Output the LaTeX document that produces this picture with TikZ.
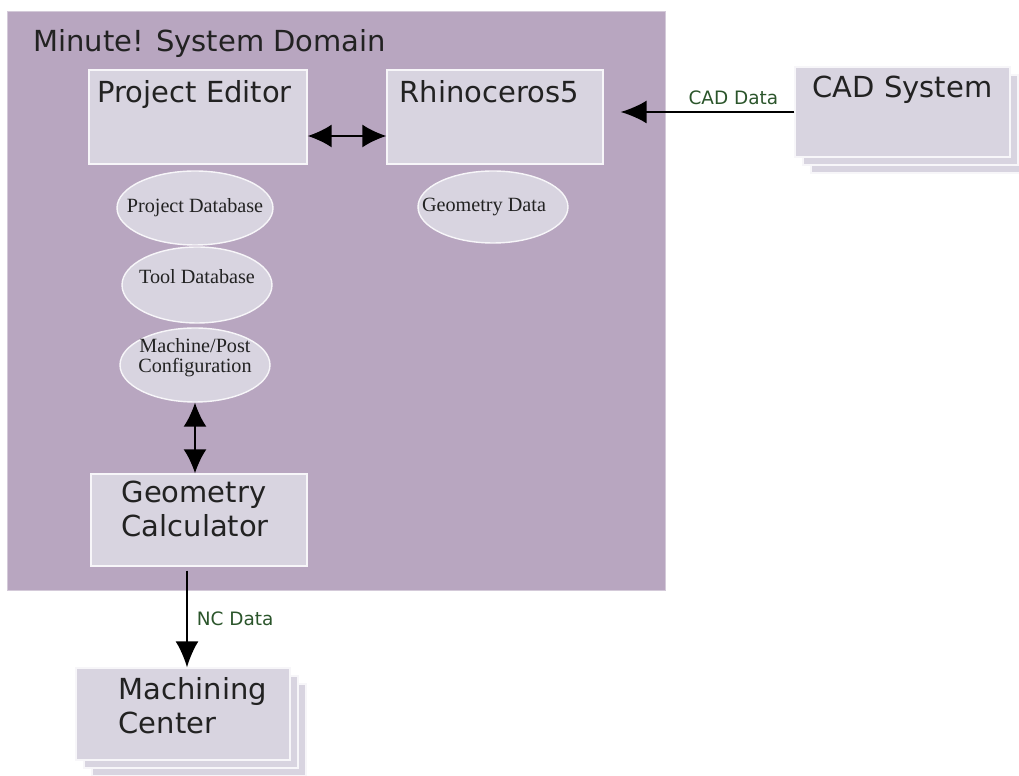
\documentclass[tikz,border=0pt]{standalone}
\usepackage{fontspec}
\setmainfont{DejaVu Sans}
\newfontfamily\dbfont{Liberation Serif}
\usetikzlibrary{shapes.geometric,arrows.meta,shadows}
\definecolor{domainfill}{HTML}{B8A6C0}
\definecolor{boxfill}{HTML}{D8D4E0}
\definecolor{flowgreen}{HTML}{2B552B}
\definecolor{inkgray}{HTML}{222222}

\begin{document}
\begin{tikzpicture}[x=0.02cm,y=-0.02cm,every node/.style={text=inkgray},
  box/.style={rectangle,fill=boxfill,draw=white!80!boxfill,line width=0.8pt,inner sep=0pt},
  stack/.style={copy shadow={shadow xshift=0.32cm,shadow yshift=-0.32cm,fill=boxfill,draw=white!80!boxfill,line width=0.8pt},
                copy shadow={shadow xshift=0.16cm,shadow yshift=-0.16cm,fill=boxfill,draw=white!80!boxfill,line width=0.8pt}},
  boxtext/.style={font=\fontsize{16.5}{19.5}\selectfont,align=left,inner sep=0pt,anchor=north west},
  dbell/.style={ellipse,fill=boxfill,draw=white!80!boxfill,line width=0.8pt,inner sep=0pt},
  dbtext/.style={font=\dbfont\fontsize{11.5}{11.5}\selectfont,align=center,inner sep=0pt,text=inkgray},
  flow/.style={line width=1.1pt,-{Latex[length=0.52cm,width=0.46cm]}},
  dflow/.style={line width=1.1pt,{Latex[length=0.48cm,width=0.46cm]}-{Latex[length=0.48cm,width=0.46cm]}},
  flowlbl/.style={font=\fontsize{10.5}{12}\selectfont,text=flowgreen}]
  \useasboundingbox (0,0) rectangle (1019,776);
  \fill[domainfill,draw=white!40!domainfill] (7,11) rectangle (665,590);
  \node[font=\fontsize{16.5}{20}\selectfont,anchor=base west,inner sep=0pt] (dom) at (33,52) {Minute! System Domain};

  \node[box,minimum width=4.36cm,minimum height=1.88cm] (pe) at (198,117) {};
  \node[boxtext] (pet) at ([xshift=0.18cm,yshift=-0.22cm]pe.north west) {Project Editor};
  \node[box,minimum width=4.32cm,minimum height=1.88cm] (rh) at (495,117) {};
  \node[boxtext] (rht) at ([xshift=0.26cm,yshift=-0.22cm]rh.north west) {Rhinoceros5};
  \node[box,stack,minimum width=4.3cm,minimum height=1.8cm] (cad) at (902.5,112) {};
  \node[boxtext] (cadt) at ([xshift=0.36cm,yshift=-0.18cm]cad.north west) {CAD System};
  \node[box,minimum width=4.32cm,minimum height=1.84cm] (gc) at (199,520) {};
  \node[boxtext] (gct) at ([xshift=0.62cm,yshift=-0.14cm]gc.north west) {Geometry\\Calculator};
  \node[box,stack,minimum width=4.28cm,minimum height=1.84cm] (mc) at (183,714) {};
  \node[boxtext] (mct) at ([xshift=0.86cm,yshift=-0.2cm]mc.north west) {Machining\\Center};

  \node[dbell,minimum width=3.12cm,minimum height=1.48cm,
    label={[dbtext,name=pdbt]center:Project Database}] (pdb) at (195,208) {};
  \node[dbell,minimum width=3.0cm,minimum height=1.52cm,
    label={[dbtext,name=tdbt,yshift=0.16cm]center:Tool Database}] (tdb) at (197,285) {};
  \node[dbell,minimum width=3.0cm,minimum height=1.48cm,
    label={[dbtext,name=mpct,yshift=0.14cm]center:Machine/Post\\Configuration}] (mpc) at (195,365) {};
  \node[dbell,minimum width=3.0cm,minimum height=1.44cm,
    label={[dbtext,name=gdt,xshift=-0.18cm]center:Geometry Data}] (gd) at (493,207) {};

  \draw[dflow] ([yshift=-0.38cm]pe.east) -- ([yshift=-0.38cm]rh.west);
  \draw[dflow] (mpc.south) -- (mpc.south |- gc.north);
  \draw[flow,shorten >=0.34cm] (cad.west) -- (cad.west -| rh.east)
    node[flowlbl,pos=0.32,above] (cadlbl) {CAD Data};
  \draw[flow] ([xshift=0.08cm,yshift=-0.08cm]mc.north |- gc.south) -- ([xshift=0.08cm]mc.north)
    node[flowlbl,midway,right,xshift=0.06cm] (nclbl) {NC Data};
\end{tikzpicture}
\end{document}
